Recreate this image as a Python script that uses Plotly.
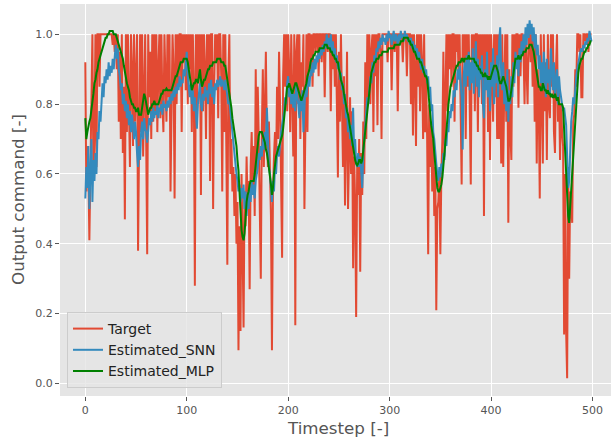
import plotly.graph_objects as go

timesteps = list(range(500))

target = [
    0.92, 0.55, 0.68, 0.62, 0.41, 0.66, 0.73, 1.00, 0.58, 0.72,
    1.00, 0.62, 1.00, 1.00, 0.85, 1.00, 1.00, 1.00, 1.00, 1.00,
    1.00, 1.00, 1.00, 1.00, 1.00, 1.00, 1.00, 0.97, 1.00, 0.95,
    1.00, 0.90, 1.00, 0.75, 0.95, 0.70, 1.00, 0.66, 0.85, 0.47,
    1.00, 0.72, 1.00, 0.80, 0.62, 1.00, 0.90, 0.68, 1.00, 0.75,
    0.85, 1.00, 0.38, 0.80, 1.00, 0.72, 1.00, 0.65, 0.85, 1.00,
    0.70, 0.37, 1.00, 0.82, 0.95, 0.70, 1.00, 0.75, 1.00, 0.78,
    1.00, 0.72, 0.90, 1.00, 0.76, 1.00, 0.80, 0.72, 1.00, 0.85,
    0.75, 1.00, 0.82, 1.00, 0.55, 0.78, 1.00, 0.90, 0.53, 1.00,
    0.80, 1.00, 0.85, 1.00, 1.00, 0.72, 1.00, 0.92, 1.00, 0.84,
    1.00, 0.80, 1.00, 0.90, 1.00, 0.72, 1.00, 0.85, 0.28, 1.00,
    0.75, 1.00, 0.88, 1.00, 0.54, 1.00, 0.78, 1.00, 0.90, 0.70,
    1.00, 0.82, 1.00, 0.58, 1.00, 1.00, 0.50, 0.85, 1.00, 0.92,
    1.00, 0.76, 1.00, 1.00, 0.88, 0.55, 1.00, 0.72, 1.00, 0.68,
    0.34, 0.88, 1.00, 0.60, 0.70, 0.55, 0.62, 0.48, 0.60, 0.40,
    0.52, 0.095, 0.45, 0.15, 0.60, 0.40, 0.16, 0.55, 0.45, 0.65,
    0.50, 0.58, 0.27, 0.62, 0.72, 0.55, 0.68, 0.48, 0.90, 0.60,
    0.85, 0.70, 0.55, 0.30, 0.72, 0.90, 0.62, 0.80, 0.95, 0.70,
    0.62, 0.75, 0.58, 0.48, 0.095, 0.55, 0.65, 0.72, 0.60, 0.85,
    0.70, 0.95, 0.80, 0.63, 0.36, 0.88, 1.00, 0.85, 1.00, 0.78,
    1.00, 0.90, 0.72, 1.00, 0.82, 0.65, 1.00, 0.167, 0.95, 1.00,
    0.80, 1.00, 0.70, 0.92, 0.85, 1.00, 0.50, 0.80, 1.00, 0.72,
    1.00, 1.00, 0.90, 1.00, 0.85, 1.00, 1.00, 0.95, 1.00, 1.00,
    0.88, 1.00, 1.00, 0.92, 1.00, 1.00, 0.82, 1.00, 1.00, 0.95,
    1.00, 1.00, 0.78, 1.00, 0.90, 1.00, 0.85, 1.00, 0.70, 0.59,
    0.95, 0.75, 1.00, 0.80, 0.62, 0.88, 0.51, 0.70, 0.95, 0.50,
    0.68, 0.82, 0.60, 0.78, 0.33, 0.65, 0.52, 0.19, 0.62, 0.54,
    0.70, 0.32, 0.66, 0.54, 0.75, 0.60, 0.92, 0.70, 1.00, 0.82,
    1.00, 0.80, 0.95, 1.00, 0.72, 1.00, 0.88, 1.00, 0.74, 1.00,
    1.00, 0.95, 0.70, 1.00, 1.00, 1.00, 1.00, 1.00, 0.92, 1.00,
    1.00, 1.00, 0.84, 1.00, 1.00, 0.95, 1.00, 1.00, 0.78, 1.00,
    1.00, 1.00, 1.00, 0.92, 1.00, 1.00, 1.00, 0.88, 1.00, 1.00,
    1.00, 0.80, 1.00, 0.71, 1.00, 0.90, 0.68, 1.00, 0.85, 1.00,
    0.78, 1.00, 0.92, 0.70, 1.00, 0.72, 0.88, 0.70, 0.37, 0.80,
    0.62, 0.75, 0.55, 0.70, 0.48, 0.62, 0.21, 0.50, 0.52, 0.60,
    0.37, 0.60, 0.70, 0.95, 0.65, 0.81, 1.00, 0.78, 1.00, 0.90,
    1.00, 0.85, 1.00, 1.00, 0.75, 1.00, 0.95, 1.00, 0.88, 1.00,
    0.80, 0.57, 1.00, 0.92, 1.00, 0.70, 1.00, 0.85, 1.00, 0.75,
    0.57, 1.00, 0.88, 1.00, 0.78, 1.00, 1.00, 0.72, 1.00, 0.90,
    1.00, 0.80, 1.00, 0.48, 1.00, 0.85, 1.00, 0.72, 1.00, 0.64,
    1.00, 0.90, 0.75, 1.00, 0.82, 1.00, 0.70, 1.00, 0.70, 0.88,
    0.63, 1.00, 0.62, 0.85, 1.00, 0.75, 1.00, 0.46, 0.90, 0.72,
    0.64, 1.00, 0.85, 1.00, 0.92, 1.00, 1.00, 0.79, 1.00, 0.88,
    1.00, 1.00, 0.95, 0.80, 1.00, 0.90, 0.80, 1.00, 1.00, 0.92,
    1.00, 0.85, 1.00, 0.75, 1.00, 0.63, 0.90, 0.80, 0.53, 1.00,
    0.85, 0.63, 1.00, 0.78, 0.92, 0.64, 1.00, 0.80, 0.76, 1.00,
    0.85, 1.00, 0.72, 0.66, 0.90, 1.00, 0.75, 0.85, 0.64, 0.80,
    0.72, 0.68, 0.14, 0.60, 0.15, 0.015, 0.62, 0.30, 0.55, 0.50,
    0.46, 0.75, 0.77, 0.90, 0.85, 1.00, 1.00, 0.95, 1.00, 0.82,
    0.82, 1.00, 1.00, 0.98, 1.00, 1.00, 0.95, 1.00, 1.00, 1.00,
]

estimated_snn = [
    0.53, 0.62, 0.56, 0.68, 0.50, 0.60, 0.70, 0.52, 0.64, 0.58,
    0.66, 0.60, 0.72, 0.70, 0.78, 0.75, 0.83, 0.86, 0.82, 0.88,
    0.86, 0.90, 0.87, 0.92, 0.88, 0.91, 0.89, 0.93, 0.90, 0.94,
    0.97, 0.93, 0.96, 0.90, 0.88, 0.84, 0.86, 0.80, 0.83, 0.78,
    0.81, 0.76, 0.80, 0.74, 0.78, 0.72, 0.77, 0.74, 0.70, 0.75,
    0.72, 0.66, 0.62, 0.68, 0.64, 0.72, 0.75, 0.70, 0.76, 0.73,
    0.72, 0.69, 0.73, 0.76, 0.74, 0.78, 0.75, 0.79, 0.76, 0.78,
    0.77, 0.80, 0.76, 0.79, 0.78, 0.80, 0.77, 0.81, 0.79, 0.80,
    0.78, 0.81, 0.79, 0.82, 0.80, 0.83, 0.81, 0.84, 0.82, 0.85,
    0.83, 0.86, 0.84, 0.88, 0.85, 0.87, 0.86, 0.90, 0.88, 0.92,
    0.95, 0.88, 0.85, 0.82, 0.86, 0.80, 0.84, 0.78, 0.82, 0.76,
    0.73, 0.80, 0.84, 0.86, 0.80, 0.78, 0.83, 0.81, 0.85, 0.82,
    0.84, 0.80, 0.86, 0.83, 0.87, 0.82, 0.85, 0.80, 0.86, 0.84,
    0.87, 0.85, 0.86, 0.88, 0.85, 0.87, 0.86, 0.84, 0.87, 0.85,
    0.83, 0.80, 0.81, 0.78, 0.74, 0.70, 0.68, 0.64, 0.62, 0.60,
    0.58, 0.55, 0.57, 0.52, 0.56, 0.53, 0.57, 0.50, 0.55, 0.48,
    0.53, 0.50, 0.56, 0.52, 0.58, 0.54, 0.57, 0.53, 0.58, 0.60,
    0.62, 0.66, 0.64, 0.68, 0.65, 0.70, 0.67, 0.72, 0.68, 0.79,
    0.66, 0.62, 0.60, 0.56, 0.52, 0.58, 0.55, 0.62, 0.60, 0.66,
    0.68, 0.65, 0.70, 0.72, 0.74, 0.76, 0.78, 0.82, 0.80, 0.86,
    0.88, 0.82, 0.85, 0.80, 0.84, 0.79, 0.83, 0.78, 0.86, 0.82,
    0.80, 0.76, 0.82, 0.78, 0.84, 0.72, 0.80, 0.85, 0.82, 0.86,
    0.88, 0.85, 0.90, 0.88, 0.92, 0.89, 0.93, 0.90, 0.94, 0.92,
    0.95, 0.93, 0.96, 0.94, 0.97, 0.95, 0.98, 0.96, 1.00, 0.97,
    0.99, 0.96, 1.00, 0.95, 0.98, 0.94, 0.96, 0.92, 0.94, 0.90,
    0.92, 0.87, 0.89, 0.84, 0.86, 0.80, 0.83, 0.76, 0.79, 0.72,
    0.75, 0.70, 0.74, 0.68, 0.79, 0.66, 0.70, 0.63, 0.62, 0.66,
    0.62, 0.65, 0.60, 0.56, 0.66, 0.70, 0.75, 0.78, 0.82, 0.80,
    0.85, 0.88, 0.86, 0.92, 0.89, 0.94, 0.92, 0.96, 0.95, 0.98,
    0.96, 0.99, 0.97, 1.00, 0.98, 0.99, 0.97, 1.00, 0.98, 1.01,
    0.99, 1.00, 0.97, 0.99, 1.01, 0.98, 1.00, 0.99, 0.97, 1.00,
    0.98, 1.01, 0.99, 1.00, 0.98, 1.01, 0.99, 1.00, 0.98, 0.99,
    0.97, 0.99, 0.96, 0.98, 0.95, 0.97, 0.94, 0.96, 0.93, 0.95,
    0.92, 0.90, 0.93, 0.89, 0.91, 0.88, 0.90, 0.86, 0.88, 0.82,
    0.85, 0.78, 0.80, 0.72, 0.70, 0.65, 0.63, 0.60, 0.58, 0.62,
    0.59, 0.63, 0.61, 0.66, 0.64, 0.70, 0.68, 0.74, 0.72, 0.78,
    0.76, 0.80, 0.78, 0.84, 0.82, 0.86, 0.84, 0.90, 0.87, 0.91,
    0.86, 0.82, 0.67, 0.88, 0.92, 0.85, 0.94, 0.88, 0.95, 0.84,
    0.92, 0.86, 0.96, 0.83, 0.90, 0.98, 0.85, 0.93, 0.82, 0.91,
    0.87, 0.94, 0.80, 0.76, 0.90, 0.84, 0.95, 0.82, 0.88, 0.78,
    0.92, 0.85, 0.96, 0.80, 0.90, 0.86, 0.94, 0.82, 0.98, 1.02,
    0.88, 0.84, 0.92, 0.80, 0.86, 0.78, 0.90, 0.75, 0.84, 0.80,
    0.88, 0.82, 0.92, 0.86, 0.95, 0.90, 0.94, 0.88, 0.96, 0.92,
    0.98, 0.94, 1.00, 0.96, 1.02, 0.97, 1.03, 0.99, 1.04, 1.00,
    1.03, 0.98, 1.02, 0.96, 1.00, 0.94, 0.97, 0.90, 0.94, 0.86,
    0.92, 0.84, 0.95, 0.88, 0.82, 0.93, 0.86, 0.90, 0.83, 0.96,
    0.88, 0.84, 0.92, 0.82, 0.87, 0.90, 0.80, 0.88, 0.84, 0.82,
    0.80, 0.78, 0.79, 0.77, 0.74, 0.65, 0.56, 0.58, 0.68, 0.75,
    0.78, 0.82, 0.80, 0.85, 0.88, 0.90, 0.92, 0.94, 0.95, 0.96,
    0.95, 0.97, 0.96, 0.98, 0.97, 0.99, 0.98, 1.01, 0.99, 0.98,
]

estimated_mlp = [
    0.76, 0.70, 0.72, 0.74, 0.75, 0.76, 0.78, 0.80, 0.83, 0.86,
    0.87, 0.89, 0.90, 0.92, 0.93, 0.94, 0.95, 0.96, 0.97, 0.98,
    0.99, 0.99, 1.00, 1.00, 1.01, 1.01, 1.01, 1.01, 1.00, 1.00,
    1.00, 0.99, 0.98, 0.97, 0.96, 0.95, 0.94, 0.93, 0.91, 0.89,
    0.88, 0.86, 0.85, 0.84, 0.82, 0.81, 0.80, 0.80, 0.79, 0.79,
    0.78, 0.78, 0.79, 0.77, 0.77, 0.77, 0.79, 0.81, 0.83, 0.82,
    0.80, 0.78, 0.77, 0.78, 0.79, 0.79, 0.80, 0.80, 0.81, 0.80,
    0.80, 0.80, 0.80, 0.81, 0.82, 0.83, 0.83, 0.84, 0.84, 0.84,
    0.845, 0.84, 0.84, 0.84, 0.84, 0.84, 0.85, 0.86, 0.87, 0.88,
    0.88, 0.89, 0.90, 0.91, 0.92, 0.92, 0.92, 0.93, 0.93, 0.93,
    0.93, 0.92, 0.90, 0.88, 0.86, 0.84, 0.85, 0.86, 0.86, 0.87,
    0.87, 0.86, 0.88, 0.90, 0.87, 0.85, 0.86, 0.87, 0.87, 0.88,
    0.89, 0.90, 0.90, 0.91, 0.91, 0.91, 0.92, 0.92, 0.92, 0.92,
    0.93, 0.93, 0.93, 0.93, 0.92, 0.92, 0.92, 0.91, 0.91, 0.89,
    0.87, 0.85, 0.83, 0.82, 0.79, 0.76, 0.74, 0.72, 0.71, 0.68,
    0.64, 0.61, 0.55, 0.49, 0.44, 0.42, 0.41, 0.43, 0.48, 0.52,
    0.54, 0.55, 0.57, 0.58, 0.58, 0.58, 0.58, 0.60, 0.63, 0.67,
    0.70, 0.71, 0.72, 0.72, 0.72, 0.71, 0.70, 0.69, 0.67, 0.66,
    0.64, 0.62, 0.60, 0.57, 0.54, 0.56, 0.60, 0.63, 0.65, 0.66,
    0.67, 0.68, 0.69, 0.70, 0.71, 0.73, 0.76, 0.79, 0.82, 0.85,
    0.85, 0.86, 0.85, 0.84, 0.83, 0.84, 0.85, 0.86, 0.86, 0.85,
    0.84, 0.83, 0.82, 0.81, 0.82, 0.83, 0.84, 0.85, 0.86, 0.88,
    0.89, 0.90, 0.92, 0.93, 0.93, 0.94, 0.94, 0.95, 0.95, 0.95,
    0.95, 0.96, 0.96, 0.96, 0.96, 0.96, 0.97, 0.97, 0.97, 0.96,
    0.96, 0.96, 0.95, 0.95, 0.94, 0.94, 0.93, 0.93, 0.92, 0.92,
    0.90, 0.89, 0.87, 0.86, 0.85, 0.83, 0.81, 0.80, 0.78, 0.77,
    0.75, 0.73, 0.71, 0.70, 0.68, 0.66, 0.64, 0.63, 0.625, 0.63,
    0.64, 0.64, 0.63, 0.64, 0.67, 0.70, 0.73, 0.75, 0.78, 0.82,
    0.85, 0.88, 0.89, 0.90, 0.91, 0.92, 0.92, 0.93, 0.93, 0.93,
    0.94, 0.94, 0.94, 0.95, 0.95, 0.95, 0.95, 0.95, 0.95, 0.96,
    0.96, 0.96, 0.96, 0.96, 0.96, 0.97, 0.97, 0.97, 0.97, 0.97,
    0.97, 0.98, 0.98, 0.98, 0.99, 0.99, 0.99, 0.99, 0.99, 0.98,
    0.98, 0.97, 0.97, 0.96, 0.95, 0.95, 0.94, 0.93, 0.93, 0.93,
    0.92, 0.92, 0.91, 0.90, 0.89, 0.88, 0.88, 0.87, 0.84, 0.80,
    0.77, 0.74, 0.72, 0.70, 0.66, 0.62, 0.59, 0.56, 0.55, 0.55,
    0.56, 0.57, 0.59, 0.62, 0.66, 0.70, 0.73, 0.76, 0.80, 0.83,
    0.85, 0.86, 0.87, 0.88, 0.89, 0.90, 0.91, 0.91, 0.92, 0.92,
    0.92, 0.93, 0.93, 0.92, 0.93, 0.93, 0.93, 0.93, 0.94, 0.93,
    0.93, 0.93, 0.93, 0.93, 0.92, 0.92, 0.91, 0.91, 0.90, 0.90,
    0.89, 0.89, 0.88, 0.88, 0.89, 0.88, 0.88, 0.87, 0.88, 0.87,
    0.88, 0.89, 0.90, 0.91, 0.91, 0.91, 0.90, 0.89, 0.87, 0.86,
    0.86, 0.87, 0.88, 0.87, 0.86, 0.85, 0.83, 0.81, 0.81, 0.82,
    0.84, 0.86, 0.89, 0.91, 0.93, 0.93, 0.93, 0.94, 0.93, 0.93,
    0.94, 0.94, 0.95, 0.95, 0.95, 0.96, 0.96, 0.96, 0.97, 0.97,
    0.97, 0.96, 0.95, 0.93, 0.91, 0.88, 0.86, 0.85, 0.85, 0.84,
    0.84, 0.86, 0.85, 0.84, 0.84, 0.83, 0.84, 0.83, 0.83, 0.82,
    0.83, 0.82, 0.82, 0.83, 0.82, 0.81, 0.82, 0.80, 0.80, 0.80,
    0.80, 0.79, 0.72, 0.64, 0.57, 0.52, 0.48, 0.46, 0.50, 0.55,
    0.60, 0.65, 0.70, 0.75, 0.80, 0.85, 0.89, 0.91, 0.92, 0.93,
    0.93, 0.94, 0.95, 0.95, 0.96, 0.96, 0.97, 0.97, 0.98, 0.98,
]

x_ticks = [0, 100, 200, 300, 400, 500]
y_ticks = [0.0, 0.2, 0.4, 0.6, 0.8, 1.0]
y_tick_labels = ["0.0", "0.2", "0.4", "0.6", "0.8", "1.0"]

FONT = "DejaVu Sans"
W, H = 611, 441
ML, MR, MT, MB = 60, 0, 4, 45

fig = go.Figure()
fig.add_trace(go.Scatter(x=timesteps, y=target, mode="lines", name="Target",
                         line=dict(color="#E24A33", width=2)))
fig.add_trace(go.Scatter(x=timesteps, y=estimated_snn, mode="lines", name="Estimated_SNN",
                         line=dict(color="#348ABD", width=2)))
fig.add_trace(go.Scatter(x=timesteps, y=estimated_mlp, mode="lines", name="Estimated_MLP",
                         line=dict(color="#008000", width=2)))

pw = W - ML - MR
ph = H - MT - MB

fig.update_layout(
    width=W, height=H,
    margin=dict(l=ML, r=MR, t=MT, b=MB, pad=0),
    paper_bgcolor="white",
    plot_bgcolor="#E5E5E5",
    font=dict(family=FONT, color="#555555", size=11),
    showlegend=True,
    legend=dict(
        x=(67 - ML) / pw, y=(H - MB - 388) / ph, xanchor="left", yanchor="bottom",
        bgcolor="rgba(229,229,229,0.8)", bordercolor="#CCCCCC", borderwidth=1,
        font=dict(family=FONT, size=14, color="#222222"),
        tracegroupgap=0,
    ),
    xaxis=dict(
        range=[-24.95, (W - 85) / 1.015],
        tickmode="array", tickvals=x_ticks,
        showgrid=True, gridcolor="white", gridwidth=1,
        zeroline=False, showline=False,
        ticks="outside", ticklen=4, tickcolor="#555555", tickwidth=1,
        tickfont=dict(family=FONT, size=11, color="#555555"),
    ),
    yaxis=dict(
        range=[-0.036, 1.087],
        tickmode="array", tickvals=y_ticks, ticktext=y_tick_labels,
        showgrid=True, gridcolor="white", gridwidth=1,
        zeroline=False, showline=False,
        ticks="outside", ticklen=4, tickcolor="#555555", tickwidth=1,
        tickfont=dict(family=FONT, size=11, color="#555555"),
    ),
    annotations=[
        dict(text="Timestep [-]", xref="paper", yref="paper",
             x=(338 - ML) / pw, y=(H - MB - 428) / ph, xanchor="center", yanchor="middle",
             showarrow=False, font=dict(family=FONT, size=16.7, color="#555555")),
        dict(text="Output command [-]", xref="paper", yref="paper",
             x=(18 - ML) / pw, y=0.5, xanchor="center", yanchor="middle", textangle=-90,
             showarrow=False, font=dict(family=FONT, size=16.7, color="#555555")),
    ],
)

fig.write_html("out.html")
